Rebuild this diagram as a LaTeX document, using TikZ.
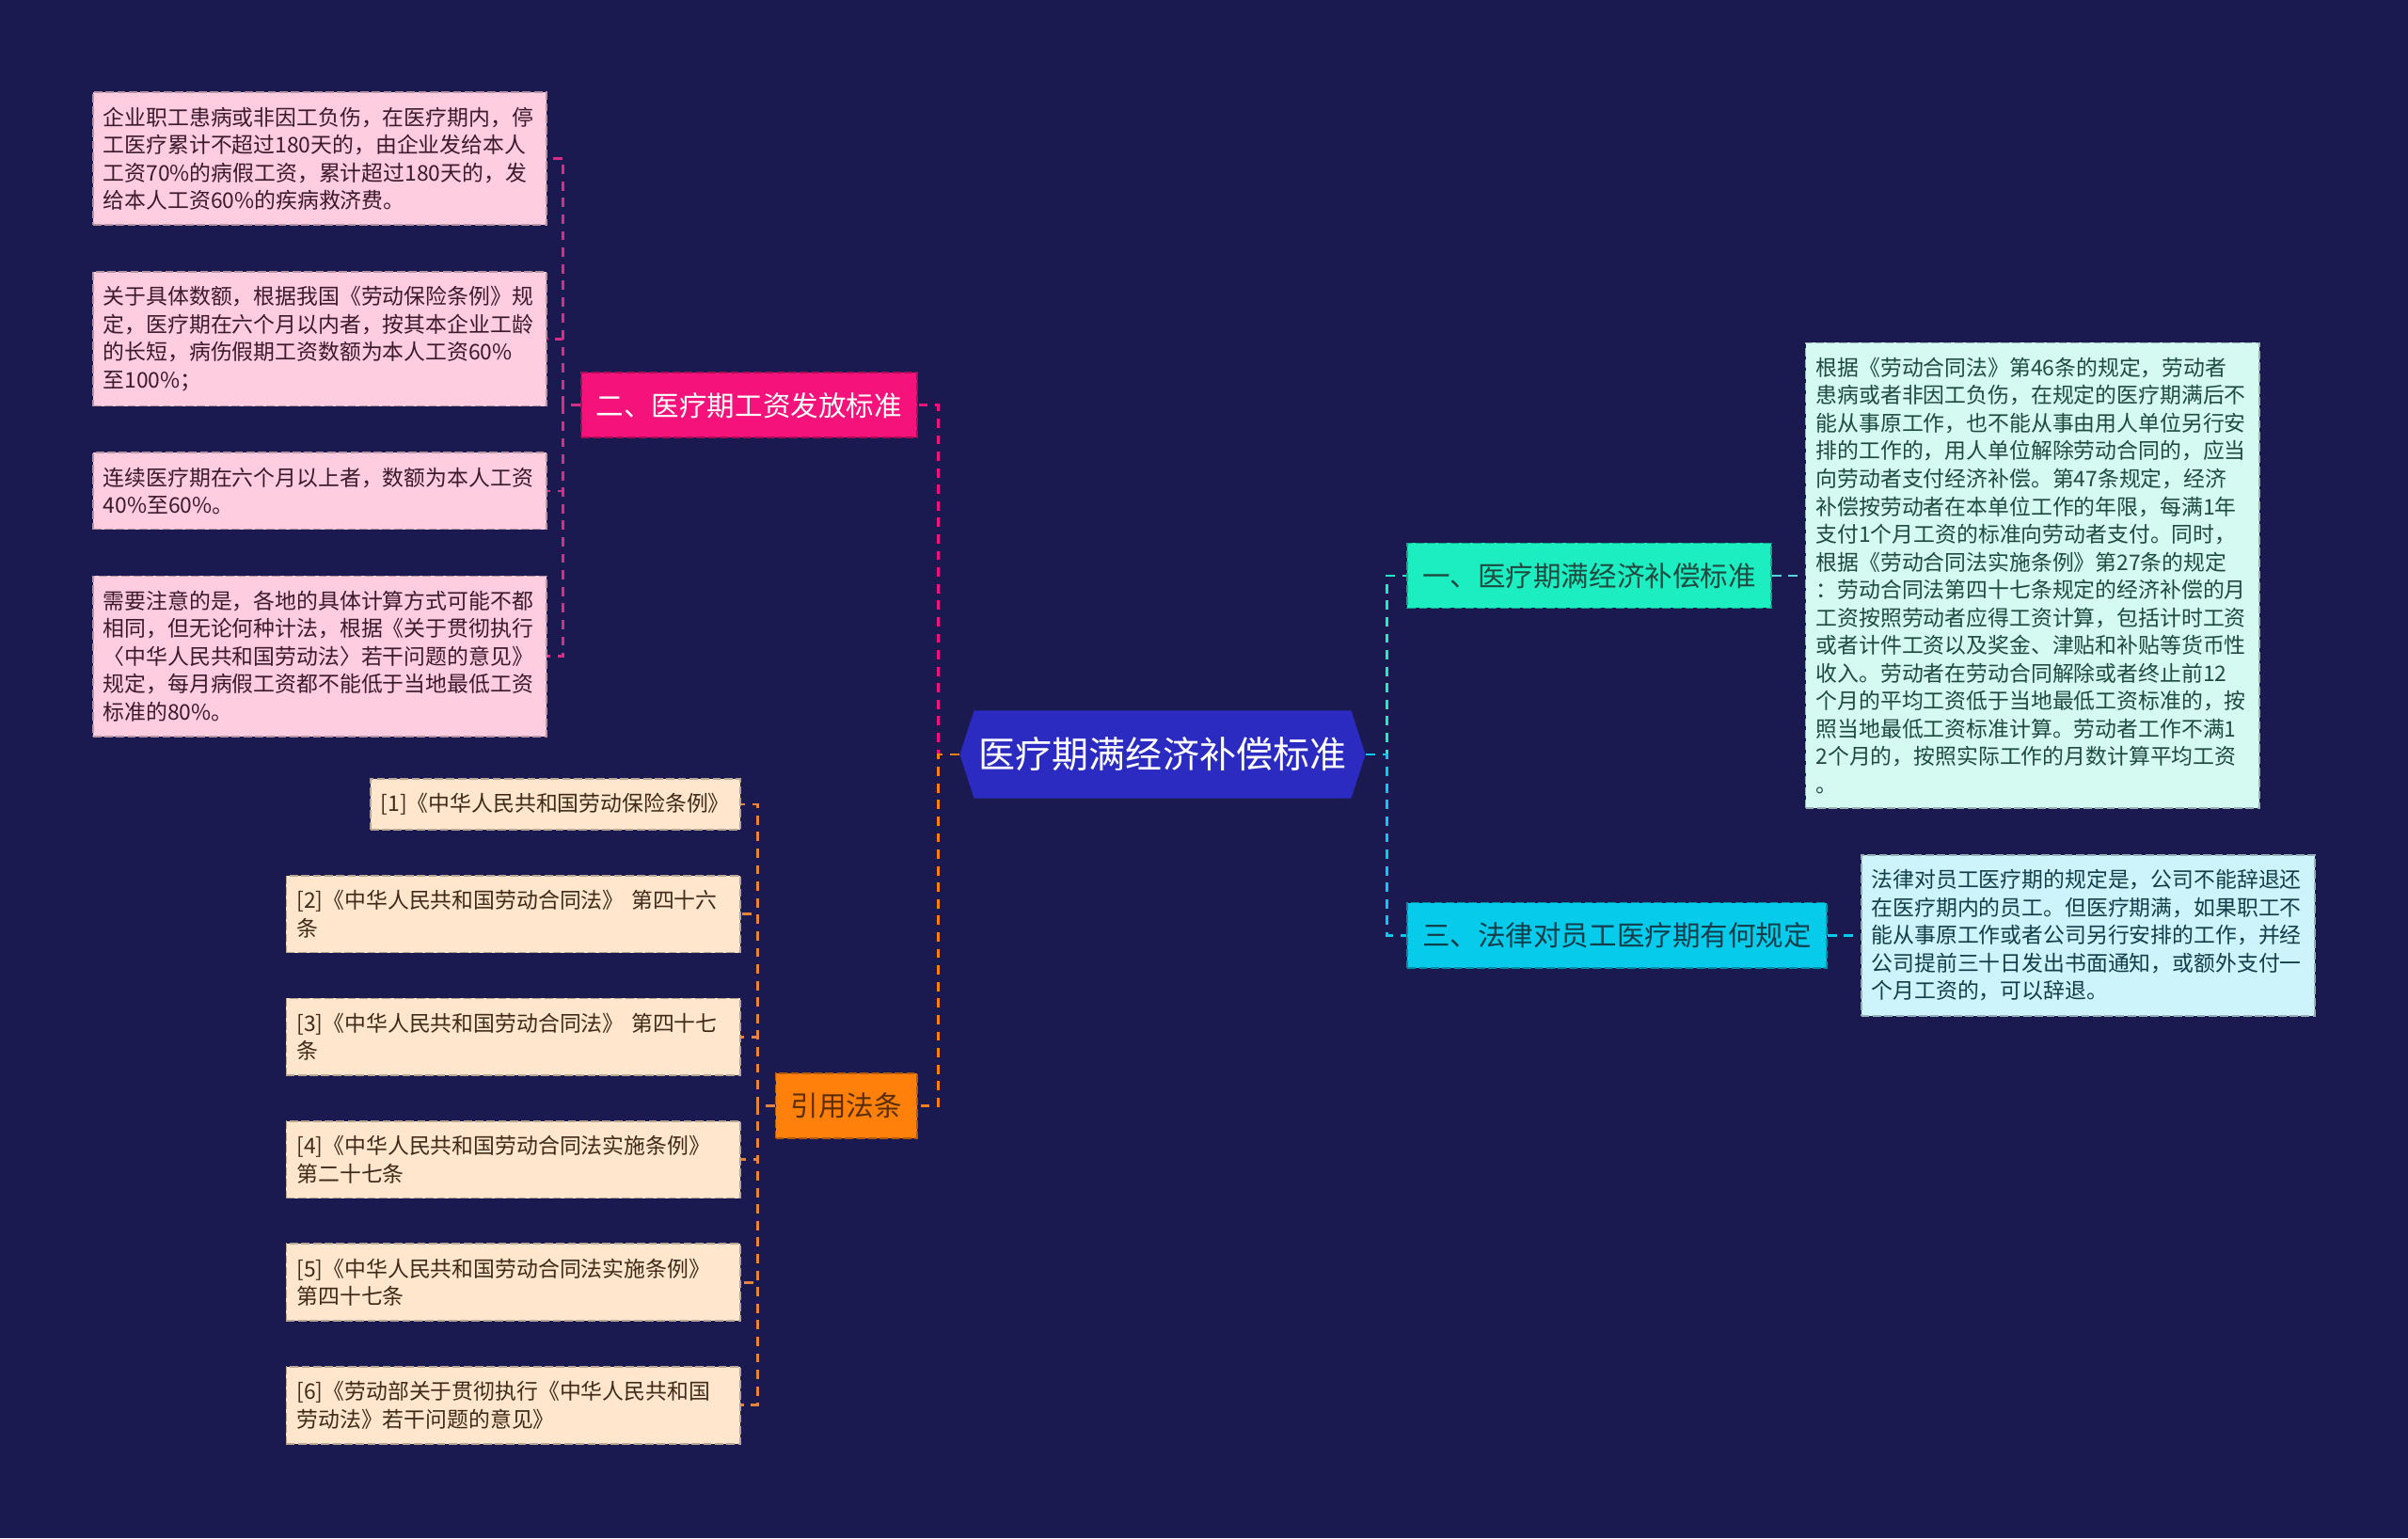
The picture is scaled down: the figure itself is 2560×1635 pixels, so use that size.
\documentclass[tikz,border=0pt]{standalone}
\usepackage{fontspec}
\setmainfont{Noto Sans CJK SC}
\usetikzlibrary{positioning, shapes.symbols}
\definecolor{bgnavy}{HTML}{1B1A50}
\definecolor{hubblue}{HTML}{2B2BC2}
\definecolor{compgreen}{HTML}{1DEEC2}
\definecolor{compnote}{HTML}{D4FAF2}
\definecolor{compline}{HTML}{55D6DA}
\definecolor{compink}{HTML}{1E4A40}
\definecolor{lawcyan}{HTML}{06CBEA}
\definecolor{lawnote}{HTML}{CDF4FA}
\definecolor{lawink}{HTML}{123E4C}
\definecolor{wagepink}{HTML}{F5127A}
\definecolor{wagenote}{HTML}{FFCCE0}
\definecolor{wageline}{HTML}{D62D86}
\definecolor{wageink}{HTML}{3B1A2C}
\definecolor{reforange}{HTML}{FF800A}
\definecolor{refnote}{HTML}{FFE6CC}
\definecolor{refline}{HTML}{E8833A}
\definecolor{refink}{HTML}{3F2A1A}
\definecolor{citeink}{HTML}{5A2E0A}

\begin{document}
\begin{tikzpicture}[
    x=0.01cm, y=-0.01cm,
    node distance=0.47cm,
    every node/.style={font=\fontsize{6.5pt}{8.4pt}\selectfont},
    hub/.style={signal, signal to=west and east, signal pointer angle=144, fill=hubblue, text=white,
        minimum width=4.31cm, minimum height=0.93cm, inner xsep=0.05cm, font=\fontsize{11.1pt}{13pt}\selectfont},
    branch/.style={rectangle, draw=#1!70!black, fill=#1, dash pattern=on 2.5pt off 1pt, line width=0.5pt,
        minimum height=0.69cm, inner xsep=0.16cm, font=\fontsize{8.4pt}{10pt}\selectfont},
    leaf/.style={rectangle, draw=#1!72!black, fill=#1, dash pattern=on 2.5pt off 1pt, line width=0.5pt,
        align=left, inner xsep=0.11cm, inner ysep=0.155cm},
    note/.style={leaf=#1, text width=4.6cm},
    link/.style={draw=#1, dash pattern=on 2.8pt off 2.2pt, line width=0.8pt}
]
    \fill[bgnavy] (0,0) rectangle (2560,1635);
    \useasboundingbox (0,0) rectangle (2560,1635);

    \node[hub] (ctr) at (1236,802) {医疗期满经济补偿标准};

    % right side
    \node[branch=compgreen, text=compink, above right=1.9cm and 0.43cm of ctr.east, anchor=west] (comp) {一、医疗期满经济补偿标准};
    \node[branch=lawcyan, text=lawink, below right=1.92cm and 0.43cm of ctr.east, anchor=west] (law) {三、法律对员工医疗期有何规定};
    \node[note=compnote, text=compink, right=0.35cm of comp] (comptext) {根据《劳动合同法》第46条的规定，劳动者\\患病或者非因工负伤，在规定的医疗期满后不\\能从事原工作，也不能从事由用人单位另行安\\排的工作的，用人单位解除劳动合同的，应当\\向劳动者支付经济补偿。第47条规定，经济\\补偿按劳动者在本单位工作的年限，每满1年\\支付1个月工资的标准向劳动者支付。同时，\\根据《劳动合同法实施条例》第27条的规定\\：劳动合同法第四十七条规定的经济补偿的月\\工资按照劳动者应得工资计算，包括计时工资\\或者计件工资以及奖金、津贴和补贴等货币性\\收入。劳动者在劳动合同解除或者终止前12\\个月的平均工资低于当地最低工资标准的，按\\照当地最低工资标准计算。劳动者工作不满1\\2个月的，按照实际工作的月数计算平均工资\\。};
    \node[note=lawnote, text=lawink, right=0.35cm of law] (lawtext) {法律对员工医疗期的规定是，公司不能辞退还\\在医疗期内的员工。但医疗期满，如果职工不\\能从事原工作或者公司另行安排的工作，并经\\公司提前三十日发出书面通知，或额外支付一\\个月工资的，可以辞退。};

    % left side
    \node[branch=wagepink, text=white, above left=3.71cm and 0.44cm of ctr.west, anchor=east] (wage) {二、医疗期工资发放标准};
    \node[branch=reforange, text=citeink, below left=3.73cm and 0.44cm of ctr.west, anchor=east] (cite) {引用法条};

    \node[note=wagenote, text=wageink, above left=2.62cm and 0.35cm of wage.west, anchor=east] (wage1) {企业职工患病或非因工负伤，在医疗期内，停\\工医疗累计不超过180天的，由企业发给本人\\工资70\%的病假工资，累计超过180天的，发\\给本人工资60\%的疾病救济费。};
    \node[note=wagenote, text=wageink, below=0.48cm of wage1] (wage2) {关于具体数额，根据我国《劳动保险条例》规\\定，医疗期在六个月以内者，按其本企业工龄\\的长短，病伤假期工资数额为本人工资60\%\\至100\%；};
    \node[note=wagenote, text=wageink, below=0.48cm of wage2] (wage3) {连续医疗期在六个月以上者，数额为本人工资\\40\%至60\%。};
    \node[note=wagenote, text=wageink, below=0.48cm of wage3] (wage4) {需要注意的是，各地的具体计算方式可能不都\\相同，但无论何种计法，根据《关于贯彻执行\\〈中华人民共和国劳动法〉若干问题的意见》\\规定，每月病假工资都不能低于当地最低工资\\标准的80\%。};

    \node[leaf=refnote, text=refink, above left=3.2cm and 0.36cm of cite.west, anchor=east] (cite1) {[1]《中华人民共和国劳动保险条例》};
    \node[note=refnote, text=refink, below=of cite1.south east, anchor=north east] (cite2) {[2]《中华人民共和国劳动合同法》 第四十六\\条};
    \node[note=refnote, text=refink, below=of cite2] (cite3) {[3]《中华人民共和国劳动合同法》 第四十七\\条};
    \node[note=refnote, text=refink, below=of cite3] (cite4) {[4]《中华人民共和国劳动合同法实施条例》\\第二十七条};
    \node[note=refnote, text=refink, below=of cite4] (cite5) {[5]《中华人民共和国劳动合同法实施条例》\\第四十七条};
    \node[note=refnote, text=refink, below=of cite5] (cite6) {[6]《劳动部关于贯彻执行《中华人民共和国\\劳动法》若干问题的意见》};

    % connectors
    \draw[link=wagepink] (ctr.west) -- ++(-22,0) |- (wage.east);
    \draw[link=reforange] (ctr.west) -- ++(-22,0) |- (cite.east);
    \draw[link=compgreen] (ctr.east) -- ++(22,0) |- (comp.west);
    \draw[link=lawcyan] (ctr.east) -- ++(22,0) |- (law.west);
    \draw[link=compline] (comp) -- (comptext);
    \draw[link=lawcyan] (law) -- (lawtext);
    \foreach \i in {1,...,4}
        \draw[link=wageline] (wage.west) -- ++(-18,0) |- (wage\i.east);
    \foreach \i in {1,...,6}
        \draw[link=refline] (cite.west) -- ++(-18,0) |- (cite\i.east);
\end{tikzpicture}
\end{document}
